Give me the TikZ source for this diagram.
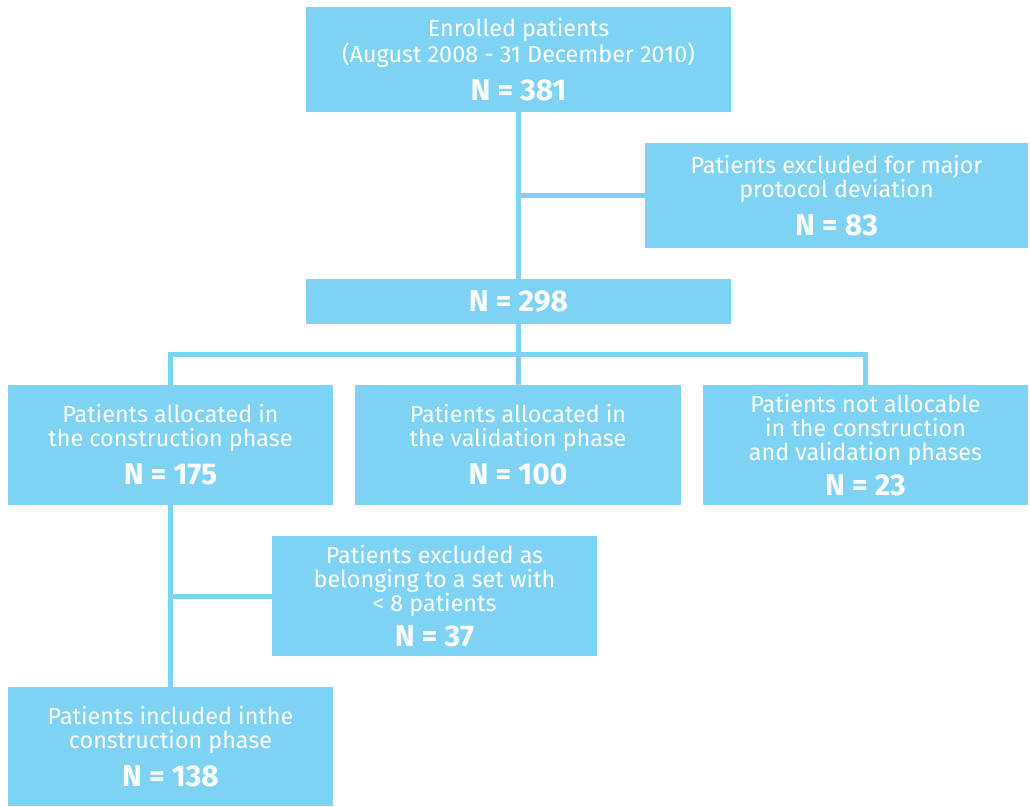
\documentclass[tikz,border=0pt]{standalone}
\usepackage{fontspec}
\setmainfont{Fira Sans}
\usetikzlibrary{positioning}
\definecolor{boxblue}{HTML}{7ED3F5}
\newcommand{\Nval}[1]{{\fontsize{22.5}{24}\selectfont\bfseries N = #1}}

\begin{document}
\begin{tikzpicture}[x=0.75pt, y=-0.75pt,
	box/.style = {fill=boxblue, text=white, align=center, inner sep=0pt, font=\fontsize{17.5}{18}\selectfont},
	boxsize/.style 2 args = {minimum width=#1*0.75pt, minimum height=#2*0.75pt},
	link/.style = {draw=boxblue, line width=3.75pt}]
	\useasboundingbox (0,0) rectangle (1030,806);
	\node[box, boxsize={425}{105}] (enrolled) at (518.5,59.5) {Enrolled patients\\(August 2008 - 31 December 2010)\\[8pt]\Nval{381}};
	\node[box, boxsize={383}{105}] (excl83) at (836.5,195.5) {Patients excluded for major\\protocol deviation\\[8pt]\Nval{83}};
	\node[box, boxsize={425}{45}] (n298) at (518.5,301.5) {\Nval{298}};
	\node[box, boxsize={325}{120}] (constr) at (170.5,445) {Patients allocated in\\the construction phase\\[8pt]\Nval{175}};
	\node[box, boxsize={326}{120}] (valid) at (518,445) {Patients allocated in\\the validation phase\\[8pt]\Nval{100}};
	\node[box, boxsize={325}{120}] (notalloc) at (865.5,445) {Patients not allocable\\in the construction\\and validation phases\\[6pt]\Nval{23}};
	\node[box, boxsize={325}{120}] (excl37) at (434.5,596) {Patients excluded as\\belonging to a set with\\< 8 patients\\[6pt]\Nval{37}};
	\node[box, boxsize={325}{119}] (incl) at (170.5,746.5) {Patients included inthe\\construction phase\\[8pt]\Nval{138}};
	\coordinate (bus) at (518.5,354.5);
	\draw[link] (enrolled) -- (n298);
	\draw[link] (enrolled |- excl83) -- (excl83);
	\draw[link] (n298) -- (bus);
	\draw[link] (constr) |- (bus) -| (notalloc);
	\draw[link] (bus) -- (valid);
	\draw[link] (constr) -- (incl);
	\draw[link] (constr |- excl37) -- (excl37);
\end{tikzpicture}
\end{document}
